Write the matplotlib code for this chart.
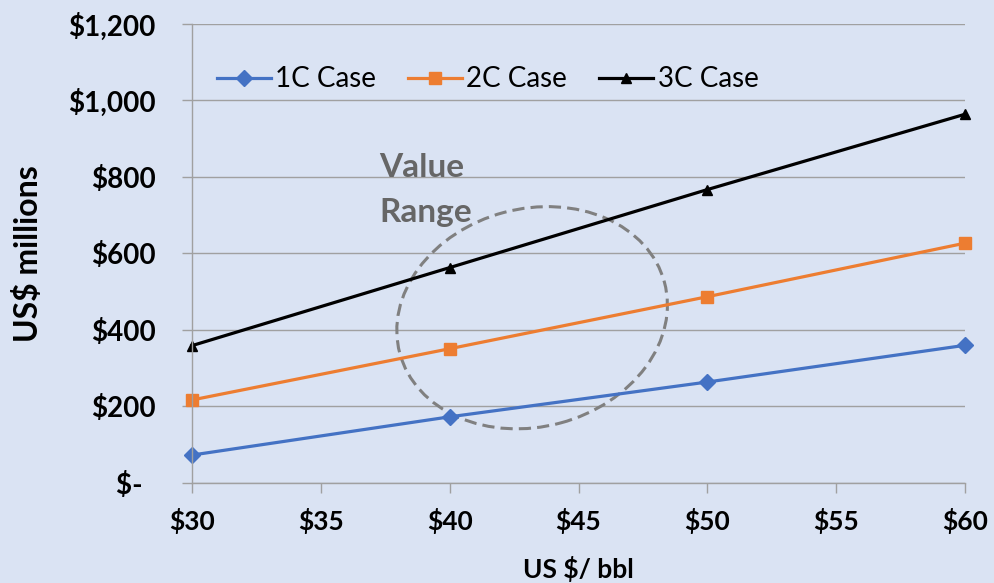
import matplotlib
matplotlib.use('Agg')
import matplotlib.pyplot as plt
import matplotlib.transforms as mtransforms
from matplotlib.patches import Ellipse

# oil price (US $/bbl) and project value (US$ millions) per reserves case
price = [30, 40, 50, 60]
case_1c = [73, 173, 264, 360]
case_2c = [217, 351, 487, 627]
case_3c = [359, 563, 767, 964]

x_ticks = [30, 35, 40, 45, 50, 55, 60]
x_labels = ['$30', '$35', '$40', '$45', '$50', '$55', '$60']
y_ticks = [0, 200, 400, 600, 800, 1000, 1200]
y_labels = ['$-  ', '$200', '$400', '$600', '$800', '$1,000', '$1,200']

bg = '#dae3f3'
grid_col = '#a0a0a0'

plt.rcParams['font.family'] = ['Lato', 'DejaVu Sans']

fig = plt.figure(figsize=(9.94, 5.83), dpi=100, facecolor=bg)
ax = fig.add_axes([0.193, 0.1715, 0.778, 0.7875], facecolor=bg)

ax.plot(price, case_1c, color='#4472c4', lw=2.3, marker='D', ms=8, label='1C Case', clip_on=False)
ax.plot(price, case_2c, color='#ed7d31', lw=2.3, marker='s', ms=9, label='2C Case', clip_on=False)
ax.plot(price, case_3c, color='black', lw=2.3, marker='^', ms=7.5, label='3C Case', clip_on=False)

ax.set_xlim(30, 60)
ax.set_ylim(0, 1200)
ax.set_xticks(x_ticks)
ax.set_xticklabels(x_labels, fontsize=19, fontweight='bold')
ax.set_yticks(y_ticks)
ax.set_yticklabels(y_labels, fontsize=20, fontweight='bold')
ax.tick_params(axis='both', length=7, width=1, color=grid_col)
ax.tick_params(axis='y', pad=19)
ax.tick_params(axis='x', pad=11)

ax.grid(axis='y', color=grid_col, lw=1)
ax.set_axisbelow(True)
for s in ['top', 'right']:
    ax.spines[s].set_visible(False)
for s in ['left', 'bottom']:
    ax.spines[s].set_color(grid_col)
    ax.spines[s].set_linewidth(1)

ax.set_ylabel('US$ millions', fontsize=23, fontweight='bold')
ax.yaxis.set_label_coords(-0.192, 0.5)
ax.set_xlabel('US $/ bbl', fontsize=19, fontweight='bold')
ax.xaxis.set_label_coords(0.5, -0.158)

ax.legend(loc='upper left', bbox_to_anchor=(0.0, 0.962), ncol=3, frameon=False,
          fontsize=20, handlelength=1.95, handletextpad=0.15, columnspacing=1.15)

# dashed ellipse marking the value range
trans = fig.dpi_scale_trans + mtransforms.ScaledTranslation(43.2, 432, ax.transData)
ax.add_patch(Ellipse((0, 0), width=2.74, height=2.18, angle=15, transform=trans,
                     fill=False, ec='#808080', lw=2.2, ls=(0, (4, 2)), clip_on=False))
ax.text(0.242, 0.667, 'Value', transform=ax.transAxes, fontsize=24, fontweight='bold',
        color='#666666', ha='left', va='baseline')
ax.text(0.242, 0.569, 'Range', transform=ax.transAxes, fontsize=24, fontweight='bold',
        color='#666666', ha='left', va='baseline')

fig.savefig('out.png', dpi=100, facecolor=bg)
